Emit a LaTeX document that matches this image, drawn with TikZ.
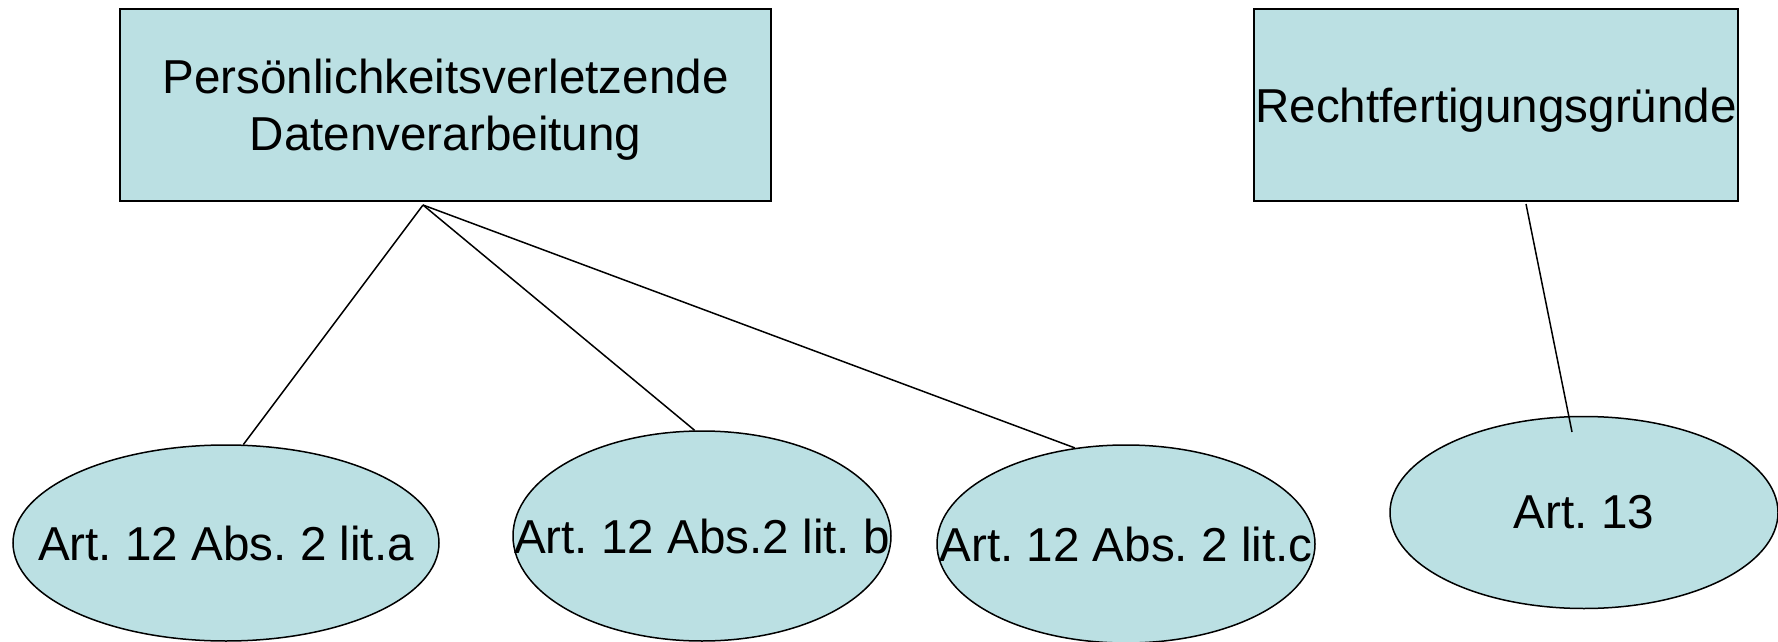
\documentclass[tikz,border=0pt]{standalone}
\usepackage{fontspec}
\setmainfont{Liberation Sans}
\usetikzlibrary{shapes.geometric}
\definecolor{boxfill}{RGB}{187,224,227}
\begin{document}
\begin{tikzpicture}[x=0.5pt,y=-0.5pt,
  txt/.style={inner sep=0pt,align=center,font=\fontsize{23.8}{28.5}\selectfont\frenchspacing},
  box/.style={draw=black,line width=0.9pt,fill=boxfill,rectangle,inner sep=0pt},
  oval/.style={draw=black,line width=0.75pt,fill=boxfill,ellipse,inner sep=0pt,font=\fontsize{23.8}{28.5}\selectfont\frenchspacing},
  link/.style={draw=black,line width=0.75pt}]
\useasboundingbox (0,0) rectangle (1778,642);
\node[box,minimum width=325.5pt,minimum height=96pt] (b1) at (445.5,105) {};
\node[txt] (b1t) at ([yshift=-2.5pt]b1.center) {Persönlichkeitsverletzende\\Datenverarbeitung};
\node[box,minimum width=242pt,minimum height=96pt] (b2) at (1496,105) {};
\node[txt] (b2t) at ([yshift=-2.5pt]b2.center) {Rechtfertigungsgründe};
\node[oval,minimum width=213pt,minimum height=98pt] (e1) at (226,543) {\makebox[0pt]{Art. 12 Abs. 2 lit.a}};
\node[oval,minimum width=189pt,minimum height=105pt] (e2) at (702,536) {\makebox[0pt]{Art. 12 Abs.2 lit. b}};
\node[oval,minimum width=189pt,minimum height=99pt] (e3) at (1126,544) {\makebox[0pt]{Art. 12 Abs. 2 lit.c}};
\node[oval,minimum width=194pt,minimum height=96pt] (e4) at (1584,512.5) {\makebox[0pt]{Art. 13}};
\coordinate (s1) at (423,205);
\coordinate (s2) at (1526,204);
\coordinate (t4) at (1572,432);
\draw[link] (s1) -- (e1.80.6);
\draw[link] (s1) -- (e2.94);
\draw[link] (s1) -- (e3.118);
\draw[link] (s2) -- (t4);
\end{tikzpicture}
\end{document}
